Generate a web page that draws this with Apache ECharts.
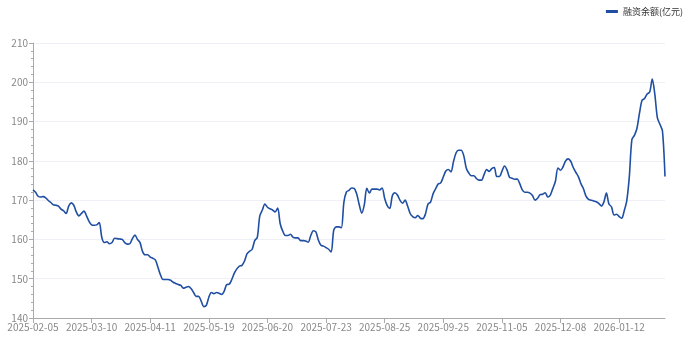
<!DOCTYPE html>
<html><head><meta charset="utf-8">
<script src="https://cdn.jsdelivr.net/npm/echarts@6/dist/echarts.min.js"></script>
<style>html,body{margin:0;padding:0;background:#fff}#c{width:692px;height:339px}</style>
</head><body><div id="c"></div>
<script>
const seriesName = '融资余额(亿元)';
const dates = [
'2025-02-05','2025-02-06','2025-02-07','2025-02-10','2025-02-11','2025-02-12','2025-02-13','2025-02-14','2025-02-17','2025-02-18','2025-02-19','2025-02-20','2025-02-21','2025-02-24','2025-02-25','2025-02-26','2025-02-27','2025-02-28',
'2025-03-03','2025-03-04','2025-03-05','2025-03-06','2025-03-07','2025-03-10','2025-03-11','2025-03-12','2025-03-13','2025-03-14','2025-03-17','2025-03-18','2025-03-19','2025-03-20','2025-03-21','2025-03-24','2025-03-25','2025-03-26','2025-03-27','2025-03-28','2025-03-31',
'2025-04-01','2025-04-02','2025-04-03','2025-04-07','2025-04-08','2025-04-09','2025-04-10','2025-04-11','2025-04-14','2025-04-15','2025-04-16','2025-04-17','2025-04-18','2025-04-21','2025-04-22','2025-04-23','2025-04-24','2025-04-25','2025-04-28','2025-04-29','2025-04-30',
'2025-05-06','2025-05-07','2025-05-08','2025-05-09','2025-05-12','2025-05-13','2025-05-14','2025-05-15','2025-05-16','2025-05-19','2025-05-20','2025-05-21','2025-05-22','2025-05-23','2025-05-26','2025-05-27','2025-05-28','2025-05-29','2025-05-30',
'2025-06-03','2025-06-04','2025-06-05','2025-06-06','2025-06-09','2025-06-10','2025-06-11','2025-06-12','2025-06-13','2025-06-16','2025-06-17','2025-06-18','2025-06-19','2025-06-20','2025-06-23','2025-06-24','2025-06-25','2025-06-26','2025-06-27','2025-06-30',
'2025-07-01','2025-07-02','2025-07-03','2025-07-04','2025-07-07','2025-07-08','2025-07-09','2025-07-10','2025-07-11','2025-07-14','2025-07-15','2025-07-16','2025-07-17','2025-07-18','2025-07-21','2025-07-22','2025-07-23','2025-07-24','2025-07-25','2025-07-28','2025-07-29','2025-07-30','2025-07-31',
'2025-08-01','2025-08-04','2025-08-05','2025-08-06','2025-08-07','2025-08-08','2025-08-11','2025-08-12','2025-08-13','2025-08-14','2025-08-15','2025-08-18','2025-08-19','2025-08-20','2025-08-21','2025-08-22','2025-08-25','2025-08-26','2025-08-27','2025-08-28','2025-08-29',
'2025-09-01','2025-09-02','2025-09-03','2025-09-04','2025-09-05','2025-09-08','2025-09-09','2025-09-10','2025-09-11','2025-09-12','2025-09-15','2025-09-16','2025-09-17','2025-09-18','2025-09-19','2025-09-22','2025-09-23','2025-09-24','2025-09-25','2025-09-26','2025-09-29','2025-09-30',
'2025-10-09','2025-10-10','2025-10-13','2025-10-14','2025-10-15','2025-10-16','2025-10-17','2025-10-20','2025-10-21','2025-10-22','2025-10-23','2025-10-24','2025-10-27','2025-10-28','2025-10-29','2025-10-30','2025-10-31',
'2025-11-03','2025-11-04','2025-11-05','2025-11-06','2025-11-07','2025-11-10','2025-11-11','2025-11-12','2025-11-13','2025-11-14','2025-11-17','2025-11-18','2025-11-19','2025-11-20','2025-11-21','2025-11-24','2025-11-25','2025-11-26','2025-11-27','2025-11-28',
'2025-12-01','2025-12-02','2025-12-03','2025-12-04','2025-12-05','2025-12-08','2025-12-09','2025-12-10','2025-12-11','2025-12-12','2025-12-15','2025-12-16','2025-12-17','2025-12-18','2025-12-19','2025-12-22','2025-12-23','2025-12-24','2025-12-25','2025-12-26','2025-12-29','2025-12-30','2025-12-31',
'2026-01-05','2026-01-06','2026-01-07','2026-01-08','2026-01-09','2026-01-12','2026-01-13','2026-01-14','2026-01-15','2026-01-16','2026-01-19','2026-01-20','2026-01-21','2026-01-22','2026-01-23','2026-01-26','2026-01-27','2026-01-28','2026-01-29','2026-01-30',
'2026-02-02','2026-02-03','2026-02-04','2026-02-05'
];
const balance = [
172.6,172.0,171.0,170.8,170.9,170.6,169.9,169.4,168.8,168.7,
168.5,167.7,167.3,166.6,168.5,169.3,168.7,167.0,166.0,166.6,
167.2,166.0,164.6,163.7,163.6,163.7,164.3,160.5,159.2,159.4,
158.9,159.2,160.3,160.2,160.1,160.0,159.2,158.8,158.9,160.2,
161.1,160.0,159.2,156.9,156.1,156.1,155.5,155.2,154.8,153.0,
151.0,149.8,149.8,149.8,149.6,149.1,148.8,148.5,148.3,147.6,
147.8,148.0,147.5,146.5,145.5,145.5,144.3,142.9,143.2,145.3,
146.5,146.2,146.5,146.3,146.0,146.8,148.5,148.6,149.8,151.4,
152.5,153.2,153.4,154.5,156.4,157.0,157.5,159.7,160.5,166.0,
167.5,169.0,168.2,167.8,167.5,167.0,168.0,164.0,162.1,161.0,
161.0,161.3,160.6,160.4,160.4,159.7,159.7,159.6,159.3,161.0,
162.2,161.9,159.8,158.5,158.3,157.9,157.5,156.8,162.3,163.2,
163.2,163.0,169.5,172.1,172.5,173.1,173.0,171.6,168.9,166.7,
168.8,173.0,171.8,172.8,172.8,172.8,172.6,173.1,170.4,168.6,
167.9,171.1,171.9,171.3,170.0,169.2,170.0,168.5,166.6,165.8,
165.5,166.1,165.4,165.3,166.5,169.0,169.5,171.6,172.9,174.1,
174.4,175.9,177.4,177.8,177.2,179.8,182.0,182.7,182.7,181.4,
178.2,176.9,176.2,176.2,175.5,175.1,175.1,176.5,177.8,177.3,
178.0,178.3,176.0,176.0,177.3,178.7,177.7,175.8,175.6,175.3,
175.4,174.2,172.6,172.0,172.0,171.8,171.2,170.0,170.5,171.4,
171.5,171.9,170.8,171.3,173.0,174.8,178.2,177.6,178.5,180.0,
180.5,179.9,178.3,177.1,176.0,174.2,172.9,171.0,170.2,170.0,
169.8,169.6,169.2,168.5,169.5,171.8,169.0,168.3,166.2,166.4,
165.8,165.4,167.3,169.9,176.0,185.4,186.5,188.3,192.2,195.4,
195.9,197.0,197.5,200.8,197.0,191.0,189.3,187.6,176.0
];
const yMin = 140, yMax = 210, yStep = 10;

const chart = echarts.init(document.getElementById('c'), null, {renderer:'canvas'});
chart.setOption({
  animation:false,
  textStyle:{fontFamily:'"Noto Sans CJK SC", "Noto Sans", sans-serif'},
  legend:{
    show:true, right:4, top:2, icon:'rect', itemWidth:12, itemHeight:3, itemGap:6,
    textStyle:{fontSize:9, color:'#333'},
    data:[seriesName]
  },
  grid:{left:33, right:27, top:43, bottom:21, containLabel:false},
  xAxis:{
    type:'category', data:dates, boundaryGap:false,
    axisLine:{lineStyle:{color:'#aaa'}},
    axisTick:{show:true, interval:22, lineStyle:{color:'#aaa'}},
    axisLabel:{interval:22, fontSize:10, color:'#888', margin:4},
    splitLine:{show:false}
  },
  yAxis:{
    type:'value', min:yMin, max:yMax, interval:yStep,
    axisLine:{show:true, lineStyle:{color:'#aaa'}},
    axisTick:{show:true, length:4, lineStyle:{color:'#aaa'}},
    minorTick:{show:true, splitNumber:5, length:2, lineStyle:{color:'#aaa'}},
    axisLabel:{fontSize:10, color:'#888', margin:5},
    splitLine:{show:true, lineStyle:{color:'#eef0f6'}}
  },
  series:[{
    name:seriesName, type:'line', data:balance, showSymbol:false, symbol:'none',
    smooth:0.3, lineStyle:{color:'#1f4ea3', width:1.6}, itemStyle:{color:'#1f4ea3'}
  }]
});
</script>
</body></html>
